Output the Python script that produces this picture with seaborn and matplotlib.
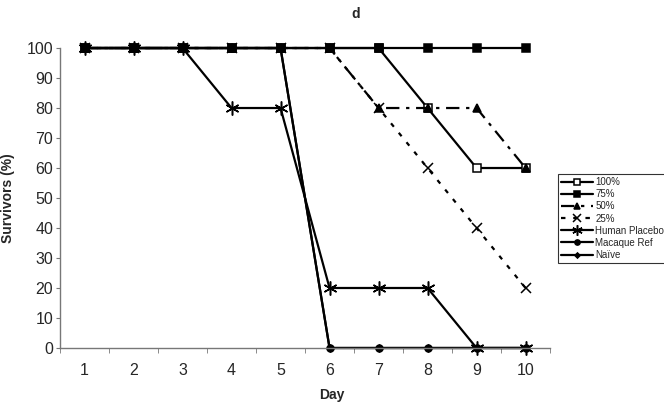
import matplotlib
matplotlib.use("Agg")
import matplotlib.pyplot as plt
import seaborn as sns
import pandas as pd

# survival data (panel d)
days = [1, 2, 3, 4, 5, 6, 7, 8, 9, 10]
s100 = [100, 100, 100, 100, 100, 100, 100, 80, 60, 60]
s75 = [100, 100, 100, 100, 100, 100, 100, 100, 100, 100]
s50 = [100, 100, 100, 100, 100, 100, 80, 80, 80, 60]
s25 = [100, 100, 100, 100, 100, 100, 80, 60, 40, 20]
placebo = [100, 100, 100, 80, 80, 20, 20, 20, 0, 0]
macaque = [100, 100, 100, 100, 100, 0, 0, 0, 0, 0]
naive = [100, 100, 100, 100, 100, 0, 0, 0, 0, 0]

names = ["100%", "75%", "50%", "25%", "Human Placebo", "Macaque Ref", "Naïve"]
series = [s100, s75, s50, s25, placebo, macaque, naive]

df = pd.concat([pd.DataFrame({"Day": days, "Survivors": v, "group": n})
                for n, v in zip(names, series)])

# marker / line style per series, Excel-like
styles = {
    "100%": dict(marker="s", mfc="white", ms=6, ls="-"),
    "75%": dict(marker="s", mfc="black", ms=6, ls="-"),
    "50%": dict(marker="^", mfc="black", ms=6, ls=(0, (6, 3, 1.5, 3))),
    "25%": dict(marker="x", mfc="black", ms=7, ls=(0, (2, 3.5))),
    "Human Placebo": dict(marker=(6, 2, 0), mfc="black", ms=10, ls="-"),
    "Macaque Ref": dict(marker="o", mfc="black", ms=5, ls="-"),
    "Naïve": dict(marker="D", mfc="black", ms=3.5, ls="-"),
}

sns.set_style("white")
plt.rcParams["font.family"] = ["Liberation Sans", "DejaVu Sans"]

fig = plt.figure(figsize=(6.64, 4.07), dpi=100)
ax = fig.add_axes([0.0904, 0.145, 0.738, 0.737])

for n in names:
    st = styles[n]
    sub = df[df["group"] == n]
    sns.lineplot(data=sub, x="Day", y="Survivors", ax=ax, color="black",
                 linewidth=1.6, linestyle=st["ls"], marker=st["marker"],
                 markersize=st["ms"], markerfacecolor=st["mfc"],
                 markeredgecolor="black", markeredgewidth=1.1,
                 label=n, clip_on=False)

ax.set_xlim(0.5, 10.5)
ax.set_ylim(0, 100)
ax.set_xticks(days)
ax.set_xticks([d + 0.5 for d in [0] + days], minor=True)
ax.set_yticks(range(0, 101, 10))
ax.tick_params(axis="x", which="major", length=0, pad=11, labelsize=11.5)
ax.tick_params(axis="x", which="minor", length=3.5, color="#777777",
               direction="out", bottom=True)
ax.tick_params(axis="y", length=3, color="#777777", direction="out",
               left=True, labelsize=11.5, pad=2)
for side in ["top", "right"]:
    ax.spines[side].set_visible(False)
for side in ["left", "bottom"]:
    ax.spines[side].set_color("#777777")
    ax.spines[side].set_linewidth(1.0)

ax.set_xlabel("Day", fontweight="bold", fontsize=10, va="center")
ax.set_ylabel("Survivors (%)", fontweight="bold", fontsize=10)
ax.xaxis.set_label_coords(0.555, -0.158)
ax.yaxis.set_label_coords(-0.092, 0.5)
fig.text(0.535, 0.965, "d", fontweight="bold", fontsize=10,
         ha="center", va="center")

handles, labels = ax.get_legend_handles_labels()
if ax.legend_:
    ax.legend_.remove()
leg = fig.legend(handles, labels, loc="upper left",
                 bbox_to_anchor=(0.840, 0.572), fontsize=7,
                 frameon=True, fancybox=False, edgecolor="black",
                 handlelength=3.3, handletextpad=0.25, labelspacing=0.22,
                 borderpad=0.3, borderaxespad=0)
leg.get_frame().set_linewidth(0.8)
for h in leg.legend_handles:
    h.set_markersize(h.get_markersize() * 0.75)

fig.savefig("out.png", dpi=100)
